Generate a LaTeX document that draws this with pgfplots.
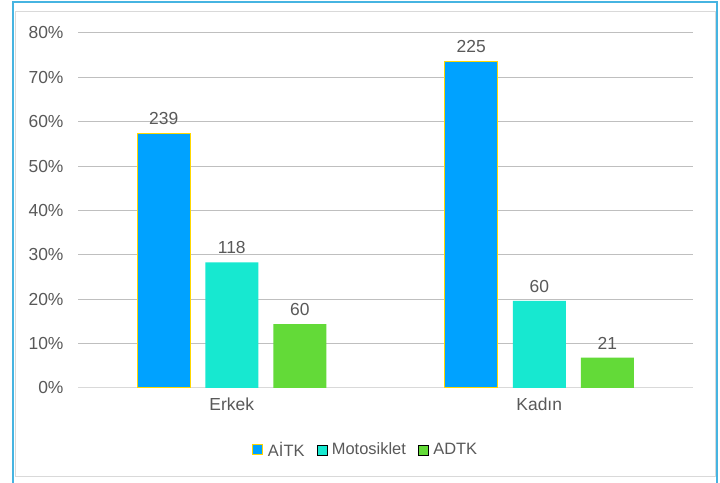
\documentclass[border=0pt]{standalone}
\usepackage{pgfplots}
\pgfplotsset{compat=1.18}
\usepackage{fontspec}
\setmainfont{Liberation Sans}
\definecolor{cblue}{RGB}{0,162,255}
\definecolor{ccyan}{RGB}{23,232,208}
\definecolor{cgreen}{RGB}{99,218,56}
\definecolor{cedge}{RGB}{255,215,0}
\definecolor{txt}{RGB}{89,89,89}
\definecolor{grid}{RGB}{217,217,217}
\definecolor{frameblue}{RGB}{70,180,225}
\begin{document}
\begin{tikzpicture}[x=1bp,y=1bp]
\useasboundingbox (0,0) rectangle (720,483);
\fill[white] (0,0) rectangle (720,483);
\draw[frameblue, line width=1.6bp] (13,-2) -- (13,481) -- (717,481) -- (717,-2);
\draw[grid, line width=1bp] (15,6) rectangle (715,471);
\begin{axis}[
  at={(78bp,95bp)}, anchor=south west,
  scale only axis, width=615bp, height=355bp,
  ybar=15bp, bar width=53bp,
  xmin=-0.5, xmax=1.5, ymin=0, ymax=80,
  xtick={0,1}, xticklabels={Erkek,Kadın},
  ytick={0,10,...,80},
  yticklabels={0\%,10\%,20\%,30\%,40\%,50\%,60\%,70\%,80\%},
  axis x line*=bottom, axis y line*=left,
  x axis line style={grid, line width=1bp, -},
  y axis line style={draw=none},
  major tick length=0pt,
  xmajorgrids=false, ymajorgrids=true, grid style={grid, line width=1bp},
  ytick style={draw=none}, xtick style={draw=none},
  tick label style={font=\fontsize{17.5}{20}\selectfont, text=txt},
  yticklabel style={xshift=-11bp},
  xticklabel style={yshift=-6bp},
  point meta=explicit symbolic,
  nodes near coords,
  every node near coord/.append style={font=\fontsize{17.5}{20}\selectfont, text=txt, yshift=5bp},
  legend style={draw=none, at={(0.47,-0.14)}, anchor=north, legend columns=-1,
    font=\fontsize{16.5}{19}\selectfont, text=txt,
    nodes={inner xsep=4.5bp}},
  legend image code/.code={\draw[#1] (0bp,-5bp) rectangle (10bp,5bp);},
  clip=false,
]
\addplot[fill=cblue, draw=cedge, line width=1bp] coordinates {(0,57.31) [239] (1,73.53) [225]};
\addplot[fill=ccyan, draw=none] coordinates {(0,28.30) [118] (1,19.61) [60]};
\addplot[fill=cgreen, draw=none] coordinates {(0,14.39) [60] (1,6.86) [21]};
\legend{AİTK\hspace*{8bp},Motosiklet\hspace*{8bp},ADTK}
\end{axis}
\end{tikzpicture}
\end{document}
